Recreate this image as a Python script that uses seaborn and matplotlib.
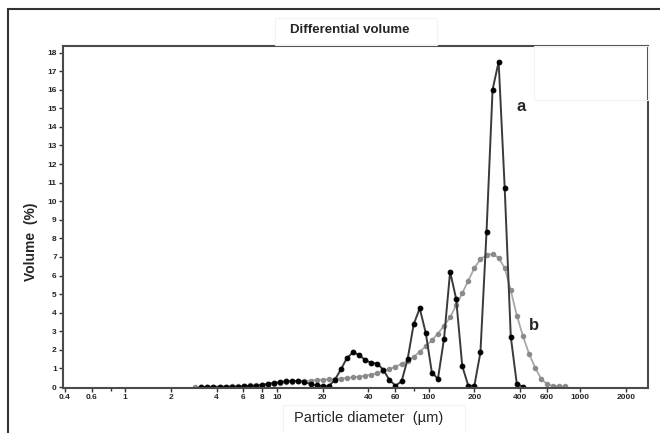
import numpy as np
import pandas as pd
import seaborn as sns
import matplotlib
matplotlib.use('Agg')
import matplotlib.pyplot as plt
from matplotlib.patches import Rectangle

# particle size classes (um), log spaced
sizes = [2.891, 3.170, 3.476, 3.811, 4.179, 4.582, 5.024, 5.508, 6.040, 6.623,
         7.262, 7.962, 8.730, 9.573, 10.50, 11.51, 12.62, 13.84, 15.17, 16.64,
         18.24, 20.00, 21.93, 24.05, 26.37, 28.91, 31.70, 34.76, 38.11, 41.79,
         45.82, 50.24, 55.08, 60.40, 66.23, 72.62, 79.62, 87.30, 95.73, 105.0,
         115.1, 126.2, 138.4, 151.7, 166.4, 182.4, 200.0, 219.3, 240.5, 263.7,
         289.1, 317.0, 347.6, 381.1, 417.9, 458.2, 502.4, 550.8, 604.0, 662.3,
         726.2, 796.2, 873.0]

# curve a (volume %)
vol_a = [np.nan, 0.00, 0.01, 0.01, 0.01, 0.02, 0.02, 0.03, 0.05, 0.06,
         0.08, 0.12, 0.18, 0.22, 0.27, 0.32, 0.33, 0.33, 0.28, 0.16,
         0.10, 0.05, 0.05, 0.38, 0.95, 1.56, 1.87, 1.74, 1.45, 1.31,
         1.26, 0.93, 0.38, 0.08, 0.30, 1.50, 3.38, 4.24, 2.89, 0.77,
         0.45, 2.60, 6.21, 4.74, 1.13, 0.07, 0.07, 1.87, 8.33, 16.0,
         17.5, 10.7, 2.71, 0.16, 0.02, np.nan, np.nan, np.nan, np.nan, np.nan,
         np.nan, np.nan, np.nan]

# curve b (volume %)
vol_b = [0.01, 0.01, 0.02, 0.02, 0.03, 0.03, 0.04, 0.05, 0.07, 0.09,
         0.11, 0.13, 0.16, 0.19, 0.22, 0.25, 0.28, 0.31, 0.33, 0.35,
         0.38, 0.40, 0.42, 0.44, 0.46, 0.49, 0.52, 0.56, 0.61, 0.67,
         0.75, 0.85, 0.97, 1.10, 1.24, 1.42, 1.63, 1.90, 2.20, 2.53,
         2.88, 3.30, 3.75, 4.40, 5.05, 5.73, 6.40, 6.88, 7.10, 7.17,
         6.95, 6.40, 5.20, 3.85, 2.75, 1.80, 1.05, 0.45, 0.15, 0.06,
         0.05, 0.04, np.nan]

x_ticks = [0.4, 0.6, 1, 2, 4, 6, 8, 10, 20, 40, 60, 100, 200, 400, 600, 1000, 2000]
x_tick_labels = ['0.4', '0.6', '1', '2', '4', '6', '8', '10', '20', '40', '60',
                 '100', '200', '400', '600', '1000', '2000']
y_ticks = list(range(0, 19))

sns.set_style('ticks')
plt.rcParams['font.family'] = ['Liberation Sans', 'DejaVu Sans']

df = pd.DataFrame({'size': sizes, 'a': vol_a, 'b': vol_b})

fig = plt.figure(figsize=(6.6, 4.33), dpi=100)
ax = fig.add_axes([63 / 660, 1 - 388 / 433, 585 / 660, 342 / 433])

# b first so a sits on top
sns.lineplot(data=df, x='size', y='b', ax=ax, color='#a8a8a8', linewidth=1.3,
             marker='o', markersize=3.2, markerfacecolor='#8a8a8a',
             markeredgecolor='#8a8a8a', estimator=None, sort=False)
sns.lineplot(data=df, x='size', y='a', ax=ax, color='#3a3a3a', linewidth=1.4,
             marker='o', markersize=3.4, markerfacecolor='black',
             markeredgecolor='black', estimator=None, sort=False)

ax.set_xscale('log')
ax.set_xlim(0.3885, 2790)
ax.set_ylim(-0.05, 18.35)
ax.set_xticks(x_ticks)
ax.set_xticklabels(x_tick_labels)
ax.set_xticks([0.8, 80], minor=True)
ax.set_yticks(y_ticks)
ax.set_xlabel('')
ax.set_ylabel('')

for s in ax.spines.values():
    s.set_color('#4a4a4a')
    s.set_linewidth(1.5)
ax.tick_params(axis='both', which='major', length=3, width=1, pad=1.5,
               labelsize=6, color='#333333')
ax.tick_params(axis='x', which='minor', length=2, width=1, color='#333333')
for lab in ax.get_xticklabels() + ax.get_yticklabels():
    lab.set_fontweight('bold')

# curve labels
ax.text(300 * 1.27, 15.1, 'a', fontsize=12, fontweight='bold', ha='left', va='center')
ax.text(400 * 1.15, 3.3, 'b', fontsize=12, fontweight='bold', ha='left', va='center')

# faint boxes from the original screen capture
faint = '#f3f3f3'
fig.add_artist(Rectangle((534 / 660, 1 - 100 / 433), 114 / 660, 54 / 433,
                         transform=fig.transFigure, fill=False, ec=faint, lw=0.8))
fig.add_artist(Rectangle((283 / 660, -0.05), 182 / 660, 1 - 405 / 433 + 0.05,
                         transform=fig.transFigure, fill=False, ec=faint, lw=0.8))
fig.add_artist(Rectangle((275 / 660, 1 - 45 / 433), 162 / 660, 27 / 433,
                         transform=fig.transFigure, fill=False, ec=faint, lw=0.8))

# outer frame (window border)
fig.add_artist(Rectangle((8 / 660, -0.1), 1.2, 1 - 9 / 433 + 0.1,
                         transform=fig.transFigure, fill=False, ec='#333333', lw=1.5))

fig.text(350 / 660, 1 - 30 / 433, 'Differential volume', ha='center', va='center',
         fontsize=9.5, fontweight='bold')
fig.text(31 / 660, 1 - 242 / 433, 'Volume  (%)', ha='center', va='center',
         rotation=90, fontsize=10, fontweight='bold')
fig.text(369 / 660, 1 - 418 / 433, 'Particle diameter  (µm)', ha='center', va='center',
         fontsize=10.5)

fig.savefig('out.png', dpi=100)
